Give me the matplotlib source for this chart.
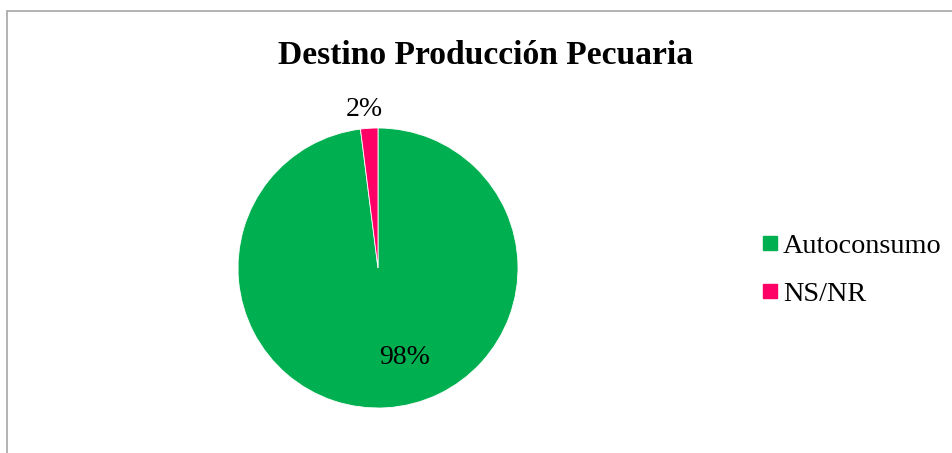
import matplotlib.pyplot as plt
from matplotlib.patches import Rectangle
from matplotlib.lines import Line2D

plt.rcParams['font.family'] = ['Liberation Serif', 'DejaVu Serif']

categories = ['Autoconsumo', 'NS/NR']
values = [98, 2]
colors = ['#00B050', '#FF0066']
title = 'Destino Producción Pecuaria'

W, H = 953, 453
fig = plt.figure(figsize=(W / 100, H / 100), dpi=100)

# chart frame (light gray border, runs past right/bottom edge)
fig.patches.append(Rectangle((7 / W, -0.1), 1.2, (H - 11) / H + 0.1,
                             transform=fig.transFigure, fill=False,
                             edgecolor='#A6A6A6', linewidth=1.2))

cx, cy, r = 378, 268, 140
ax = fig.add_axes([(cx - r) / W, (H - cy - r) / H, 2 * r / W, 2 * r / H])
wedges, texts, autotexts = ax.pie(values, colors=colors, startangle=90,
                                  counterclock=False, autopct='%1.0f%%',
                                  wedgeprops=dict(edgecolor='white', linewidth=0.6),
                                  textprops=dict(fontsize=20))
ax.set_xlim(-1, 1)
ax.set_ylim(-1, 1)
ax.set_aspect('equal')
autotexts[0].set_position((0.19, -0.64))
autotexts[1].set_position((-0.10, 1.13))

fig.text(486 / W, 1 - 55 / H, title, ha='center', va='center',
         fontsize=24.2, fontweight='bold')

handles = [Line2D([], [], marker='s', linestyle='none', markersize=10.5,
                  markerfacecolor=c, markeredgecolor=c) for c in colors]
fig.legend(handles, categories, loc='center left',
           bbox_to_anchor=(762 / W, 1 - 270 / H), frameon=False,
           fontsize=20.3, handlelength=0.6, handletextpad=0.15,
           labelspacing=0.8, borderaxespad=0, borderpad=0)

fig.savefig('out.png', dpi=100)
